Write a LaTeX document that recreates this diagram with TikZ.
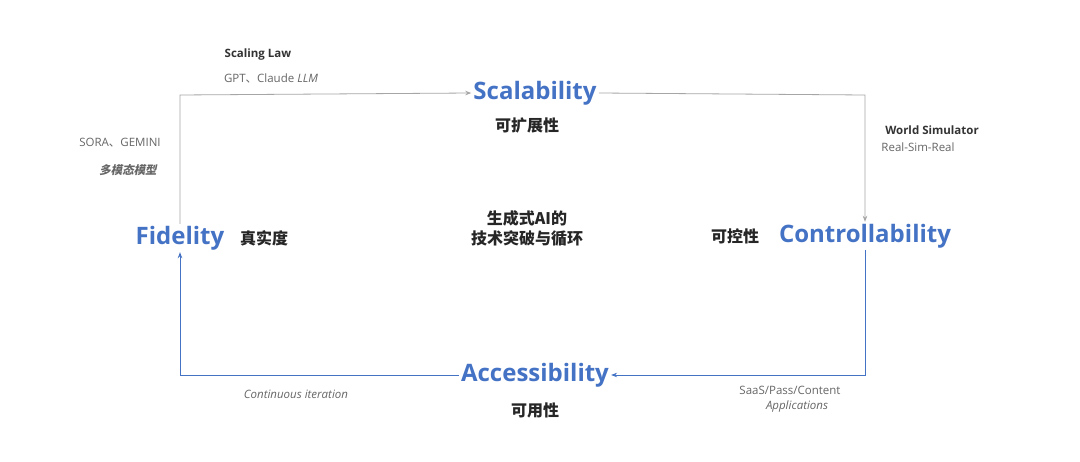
\documentclass[tikz,border=0pt]{standalone}
\usepackage{fontspec}
\setmainfont{Open Sans}
\newfontfamily\cjk{Noto Sans CJK SC}
\newfontfamily\cjkslant[FakeSlant=0.2]{Noto Sans CJK SC}
\usetikzlibrary{arrows.meta}
\definecolor{keyblue}{HTML}{4472C4}
\definecolor{loopgrey}{HTML}{A6A6A6}
\begin{document}
\begin{tikzpicture}[x=1pt,y=-1pt,
    key node/.style={font=\fontsize{24}{26}\selectfont\bfseries,text=keyblue,inner sep=2pt},
    cn node/.style={font=\cjk\fontsize{16}{20}\selectfont\bfseries,text=black!85},
    note/.style={font=\fontsize{11.5}{13}\selectfont,text=black!60},
    note head/.style={font=\fontsize{11.5}{13}\selectfont\bfseries,text=black!80},
    grey flow/.style={draw=loopgrey,thick,-{Stealth[length=6pt]}},
    blue flow/.style={draw=keyblue,thick,-{Stealth[length=6pt]}}]

    \useasboundingbox[fill=white] (0,0) rectangle (1080,462);

    % Key terms
    \node[key node] (fid) at (180,238) {Fidelity};
    \node[key node] (scal) at (535,93) {Scalability};
    \node[key node] (ctrl) at (865,236) {Controllability};
    \node[key node] (acc) at (535,375) {Accessibility};

    \node[cn node] (fidcn) at (264,238) {真实度};
    \node[cn node] (scalcn) at (527,125) {可扩展性};
    \node[cn node] (ctrlcn) at (735,236) {可控性};
    \node[cn node] (acccn) at (535,410) {可用性};

    \node[cn node,align=center] (core) at (527,228) {生成式AI的\\技术突破与循环};

    % Notes
    \node[note head] (law) at (258,55) {Scaling Law};
    \node[note] (llm) at (271,78) {GPT{\cjk 、}Claude \textit{LLM}};
    \node[note] (sora) at (120,143) {SORA{\cjk 、}GEMINI};
    \node[note,font=\cjkslant\fontsize{11.5}{13}\selectfont\bfseries] (multi) at (128,170) {多模态模型};
    \node[note head] (world) at (932,130) {World Simulator};
    \node[note] (real) at (918,147) {Real-Sim-Real};
    \node[note] (saas) at (790,390) {SaaS/Pass/Content};
    \node[note,font=\fontsize{11.5}{13}\selectfont\itshape] (apps) at (797,407) {Applications};
    \node[note,font=\fontsize{11.5}{13}\selectfont\itshape] (iter) at (296,394) {Continuous iteration};

    % Corners
    \coordinate (tl) at (180,95);
    \coordinate (tr) at (865,95);
    \coordinate (br) at (865,375);
    \coordinate (bl) at (180,375);

    % Loop
    \draw[grey flow] (fid.north -| tl) -- (tl) -- (scal.west);
    \draw[grey flow] (scal.east) -- (tr) -- (ctrl.north -| tr);
    \draw[blue flow] (ctrl.south -| br) -- (br) -- (acc.east);
    \draw[blue flow] (acc.west) -- (bl) -- (fid.south -| bl);
\end{tikzpicture}
\end{document}
